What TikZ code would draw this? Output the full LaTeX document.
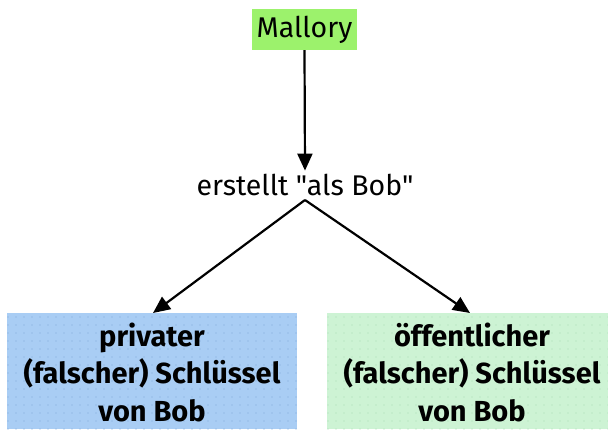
\documentclass[tikz,border=0pt]{standalone}
\usepackage{fontspec}
\setmainfont{Fira Sans}[Ligatures=TeXOff]
\usetikzlibrary{arrows.meta,patterns.meta}
\definecolor{malfill}{HTML}{9CF26C}
\definecolor{privfill}{HTML}{A9CDF4}
\definecolor{privdot}{HTML}{7FA8D8}
\definecolor{pubfill}{HTML}{CDF3D4}
\definecolor{pubdot}{HTML}{A8DDB2}
\begin{document}
\begin{tikzpicture}[x=1pt,y=-1pt,
  every node/.style={font=\fontsize{28.5}{36}\selectfont},
  keybox/.style={minimum width=290pt, minimum height=116pt, align=center,
    font=\fontsize{29}{37.5}\selectfont\bfseries, inner sep=0pt},
  link/.style={-{Triangle[length=17pt,width=15pt]}, line width=2.2pt}]
\useasboundingbox (0,0) rectangle (608,429);
\node[fill=malfill, minimum width=105pt, minimum height=41pt, inner sep=0pt] (mal) at (304.5,29.5) {Mallory};
\node (mid) at (305,185) {erstellt "als Bob"};
\coordinate (split) at (305,200);
% the two key boxes with a faint dot texture
\fill[privfill] (7,313) rectangle (297,429);
\fill[pattern={Dots[distance=8pt,radius=0.7pt]}, pattern color=privdot] (7,313) rectangle (297,429);
\node[keybox] (priv) at (152,372) {privater\\(falscher) Schlüssel\\von Bob};
\fill[pubfill] (327,313) rectangle (617,429);
\fill[pattern={Dots[distance=8pt,radius=0.7pt]}, pattern color=pubdot] (327,313) rectangle (617,429);
\node[keybox] (pub) at (472,372) {öffentlicher\\(falscher) Schlüssel\\von Bob};
\draw[link] (mal.south) -- (mid.north);
\draw[link] (split) -- (153,313);
\draw[link] (split) -- (470,313);
\end{tikzpicture}
\end{document}
